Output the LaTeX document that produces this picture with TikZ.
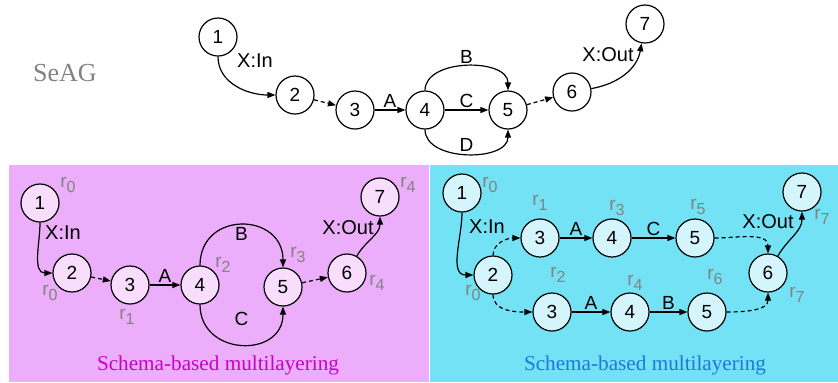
\documentclass[tikz,border=0pt]{standalone}
\usepackage{fontspec}
\setmainfont{Liberation Serif}
\setsansfont{Liberation Sans}
\usepackage{tikz}
\usetikzlibrary{arrows.meta,positioning}
\definecolor{layerpink}{RGB}{236,174,250}
\definecolor{layercyan}{RGB}{116,226,245}
\definecolor{vtxpink}{RGB}{248,222,252}
\definecolor{vtxcyan}{RGB}{212,245,251}
\definecolor{capmagenta}{RGB}{200,0,200}
\definecolor{capblue}{RGB}{30,120,215}
\definecolor{rankgray}{RGB}{130,130,130}
\newcommand{\rk}[1]{r\raisebox{-2.5pt}{\fontsize{8}{8}\selectfont #1}}

\begin{document}
\begin{tikzpicture}[x=0.5pt,y=-0.5pt,
    vtx/.style={circle,draw,line width=0.6pt,minimum size=19pt,inner sep=0pt,
        font=\sffamily\fontsize{9.5}{9.5}\selectfont},
    arc/.style={line width=0.6pt,-{Triangle[length=4pt,width=3pt]}},
    skip/.style={arc,dash pattern=on 2pt off 1.5pt},
    lbl/.style={font=\sffamily\fontsize{9.5}{9.5}\selectfont,inner sep=1pt},
    xlbl/.style={font=\sffamily\fontsize{10}{10}\selectfont,inner sep=0pt},
    rank/.style={font=\sffamily\fontsize{9.5}{9.5}\selectfont,text=rankgray,inner sep=0pt},
    caption/.style={font=\fontsize{10.6}{11}\selectfont,inner sep=0pt}]
    \useasboundingbox (0,0) rectangle (838,382);

    % SeAG
    \node[font=\fontsize{13}{13}\selectfont,text=rankgray] (seag) at (65,73) {SeAG};
    \node[vtx] (t1) at (218,37) {1};
    \node[vtx] (t2) at (295,95) {2};
    \node[vtx] (t3) at (355,110) {3};
    \node[vtx] (t4) at (425,110) {4};
    \node[vtx] (t5) at (508,110) {5};
    \node[vtx] (t6) at (572,92) {6};
    \node[vtx] (t7) at (645,24) {7};
    \node[xlbl] (tin) at (255,61) {X:In};
    \node[xlbl] (tout) at (608,55) {X:Out};
    \draw[arc] (t1) to[out=-90,in=180] (t2);
    \draw[skip] (t2) -- (t3);
    \draw[arc] (t3) -- node[lbl,above] {A} (t4);
    \draw[arc] (t4) to[out=90,in=90] node[lbl,above] {B} (t5);
    \draw[arc] (t4) -- node[lbl,above] {C} (t5);
    \draw[arc] (t4) to[out=-90,in=-90] node[lbl,above] {D} (t5);
    \draw[skip] (t5) -- (t6);
    \draw[arc] (t6) to[out=10,in=-100] (t7);

    % layers
    \fill[layerpink] (9,165) rectangle (429,382);
    \fill[layercyan] (430,165) rectangle (838,382);

    % schema layering, left
    \node[vtx,fill=vtxpink] (p1) at (40,203) {1};
    \node[vtx,fill=vtxpink] (p2) at (72,273) {2};
    \node[vtx,fill=vtxpink] (p3) at (130,285) {3};
    \node[vtx,fill=vtxpink] (p4) at (200,285) {4};
    \node[vtx,fill=vtxpink] (p5) at (283,287) {5};
    \node[vtx,fill=vtxpink] (p6) at (347,273) {6};
    \node[vtx,fill=vtxpink] (p7) at (380,197) {7};
    \node[xlbl] (pin) at (63,233) {X:In};
    \node[xlbl] (pout) at (348,228) {X:Out};
    \draw[arc] (p1) to[out=-90,in=180] (p2);
    \draw[skip] (p2) -- (p3);
    \draw[arc] (p3) -- node[lbl,above] {A} (p4);
    \draw[arc] (p4) to[out=90,in=90,looseness=1.7] node[lbl,below] {B} (p5);
    \draw[arc] (p4) to[out=-90,in=-90,looseness=1.6] node[lbl,above=8pt] {C} (p5);
    \draw[skip] (p5) -- (p6);
    \draw[arc] (p6) to[out=60,in=-90] (p7);
    \foreach \name/\pos/\r in {pr0a/{68,185}/0,pr0b/{50,293}/0,pr1/{127,317}/1,
        pr2/{223,265}/2,pr3/{298,255}/3,pr4a/{377,283}/4,pr4b/{408,185}/4}
        \node[rank] (\name) at (\pos) {\rk{\r}};
    \node[caption,text=capmagenta] (pcap) at (218,365) {Schema-based multilayering};

    % schema layering, right
    \node[vtx,fill=vtxcyan] (c1) at (462,193) {1};
    \node[vtx,fill=vtxcyan] (c2) at (493,275) {2};
    \node[vtx,fill=vtxcyan] (c3a) at (540,238) {3};
    \node[vtx,fill=vtxcyan] (c4a) at (612,238) {4};
    \node[vtx,fill=vtxcyan] (c5a) at (695,238) {5};
    \node[vtx,fill=vtxcyan] (c3b) at (552,312) {3};
    \node[vtx,fill=vtxcyan] (c4b) at (630,312) {4};
    \node[vtx,fill=vtxcyan] (c5b) at (707,312) {5};
    \node[vtx,fill=vtxcyan] (c6) at (768,273) {6};
    \node[vtx,fill=vtxcyan] (c7) at (802,192) {7};
    \node[xlbl] (cin) at (487,227) {X:In};
    \node[xlbl] (cout) at (768,222) {X:Out};
    \draw[arc] (c1) to[out=-90,in=180] (c2);
    \draw[skip] (c2) to[out=90,in=180] (c3a);
    \draw[skip] (c2) to[out=-90,in=180] (c3b);
    \draw[arc] (c3a) -- node[lbl,above] {A} (c4a);
    \draw[arc] (c4a) -- node[lbl,above] {C} (c5a);
    \draw[arc] (c3b) -- node[lbl,above] {A} (c4b);
    \draw[arc] (c4b) -- node[lbl,above] {B} (c5b);
    \draw[skip] (c5a) to[out=0,in=90] (c6);
    \draw[skip] (c5b) to[out=0,in=-90] (c6);
    \draw[arc] (c6) to[out=60,in=-90] (c7);
    \foreach \name/\pos/\r in {cr0a/{490,185}/0,cr1/{540,203}/1,cr3/{617,208}/3,
        cr5/{698,207}/5,cr7a/{822,217}/7,cr2/{558,275}/2,cr4/{635,283}/4,
        cr6/{715,277}/6,cr0b/{473,293}/0,cr7b/{797,295}/7}
        \node[rank] (\name) at (\pos) {\rk{\r}};
    \node[caption,text=capblue] (ccap) at (645,365) {Schema-based multilayering};
\end{tikzpicture}
\end{document}
